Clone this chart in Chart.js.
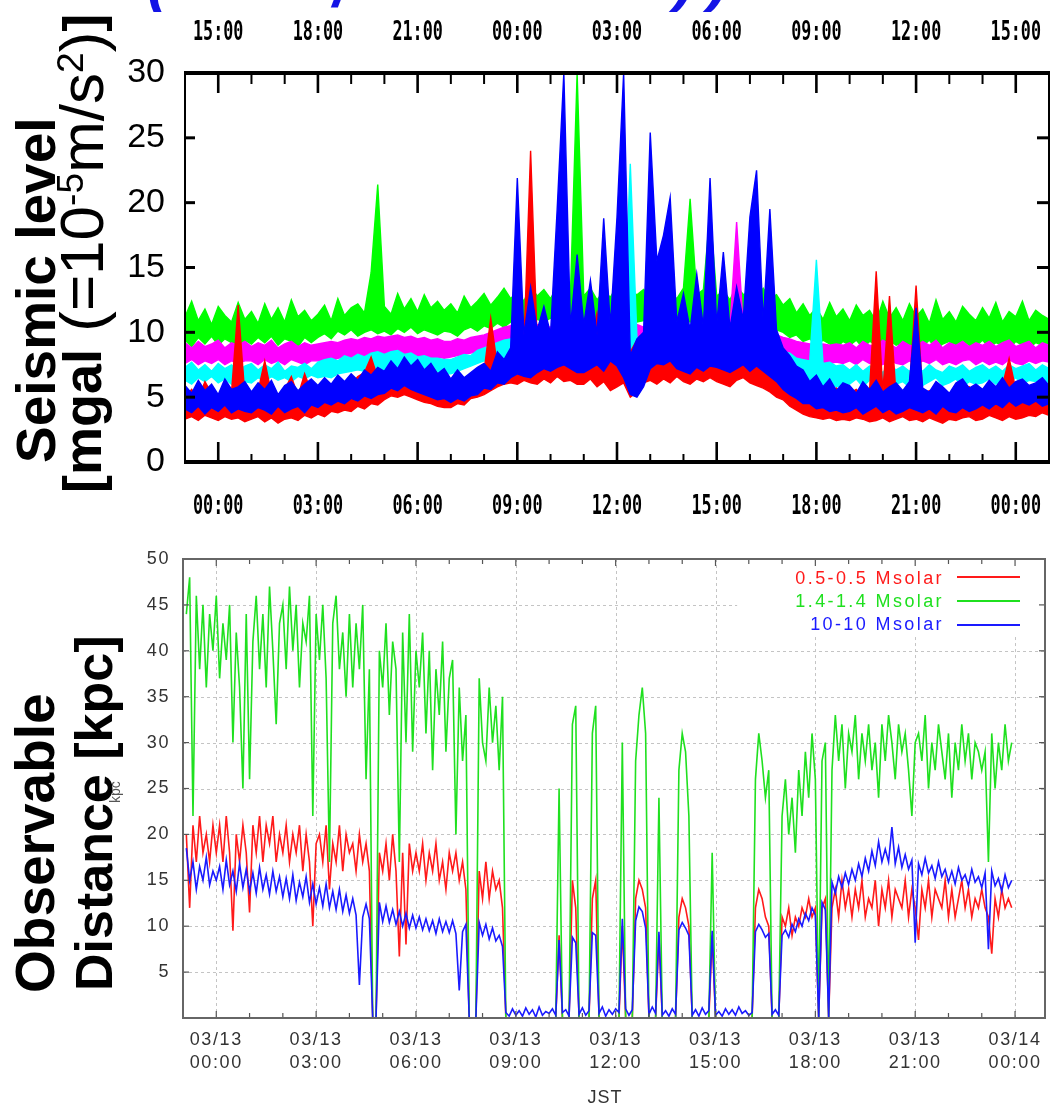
<!DOCTYPE html>
<html>
<head>
<meta charset="utf-8">
<title>Seismic level and observable distance, 03/13 JST</title>
<script src="https://cdn.jsdelivr.net/npm/chart.js@4"></script>
<style>
  body { margin: 0; background: #fff; }
  #page { position: relative; width: 1052px; height: 1113px; overflow: hidden; background: #fff; }
  #page canvas { position: absolute; left: 0; }
  .vt { position: absolute; writing-mode: vertical-rl; transform: rotate(180deg); white-space: nowrap;
        font-family: 'Liberation Sans', Arial, sans-serif; color: #000; }
  .vt sup { font-size: 0.6em; line-height: 0; vertical-align: 0.31em; }
  .cut { position: absolute; font: italic bold 60px 'Liberation Sans', Arial, sans-serif; color: #1414e6; line-height: 60px; }
  .key { position: absolute; right: 108px; font: 18px 'Liberation Sans', Arial, sans-serif; letter-spacing: 2.4px; line-height: 22px; text-align: right; }
  .swatch { position: absolute; left: 957px; width: 63px; height: 2px; }
</style>
</head>
<body>
<div id="page">
  <canvas id="seismic" width="1052" height="530" style="top:0"></canvas>
  <canvas id="distance" width="1052" height="583" style="top:530px"></canvas>

  <!-- bottom edge of the page heading -->
  <div class="cut" style="left:147px; top:-50px">(</div>
  <div class="cut" style="left:333px; top:-44px">/</div>
  <div class="cut" style="left:674px; top:-50px; letter-spacing:14px">))</div>

  <div class="vt" style="left:9px; top:63px; height:400px; font-size:55px; line-height:55px; font-weight:bold">Seismic level</div>
  <div class="vt" style="left:51px; top:0; height:493px; font-size:62px; line-height:62px"><b style="font-size:54px">[mgal</b> (=10<sup>-5</sup>m/s<sup>2</sup>)<b style="font-size:54px">]</b></div>

  <div class="vt" style="left:8px; top:593px; height:400px; font-size:55px; line-height:55px; font-weight:bold">Observable</div>
  <div class="vt" style="left:68px; top:591px; height:400px; font-size:52px; line-height:52px; font-weight:bold">Distance [kpc]</div>
  <div class="vt" style="left:108px; top:763px; height:40px; font-size:14px; line-height:14px; color:#555">kpc</div>

  <div class="key" style="top:567px; color:#ff1a1a">0.5-0.5 Msolar</div>
  <div class="key" style="top:590px; color:#1fe01f">1.4-1.4 Msolar</div>
  <div class="key" style="top:613px; color:#1a1aff">10-10 Msolar</div>
  <div class="swatch" style="top:576px; background:#ff1a1a"></div>
  <div class="swatch" style="top:600px; background:#1fe01f"></div>
  <div class="swatch" style="top:624px; background:#1a1aff"></div>

  <div style="position:absolute; left:575px; top:1087px; width:60px; text-align:center; font:18px 'Liberation Sans', Arial, sans-serif; color:#333; letter-spacing:1px">JST</div>
</div>

<script>
// Axis ticks shared by both panels (hours from 03/13 00:00 JST)
const tickHours = [0, 3, 6, 9, 12, 15, 18, 21, 24];
const jstLabels = ['00:00', '03:00', '06:00', '09:00', '12:00', '15:00', '18:00', '21:00', '00:00'];
const utcLabels = ['15:00', '18:00', '21:00', '00:00', '03:00', '06:00', '09:00', '12:00', '15:00'];
const dateLabels = [
  ['03/13', '00:00'], ['03/13', '03:00'], ['03/13', '06:00'], ['03/13', '09:00'], ['03/13', '12:00'],
  ['03/13', '15:00'], ['03/13', '18:00'], ['03/13', '21:00'], ['03/14', '00:00']
];

// Seismic level [mgal]: upper and lower edge of each trace, every 0.2 h from -1 h
const seisStart = -1;
const seisStep = 0.2;
const blueHigh = [
  5.9, 5.3, 6.3, 5.5, 6.0, 5.2, 6.4, 5.6, 5.8, 6.2,
  5.4, 6.1, 5.6, 6.3, 5.2, 5.9, 6.2, 5.5, 6.0, 6.4,
  5.9, 6.5, 6.0, 6.7, 6.2, 6.8, 6.3, 7.1, 6.7, 7.3,
  7.0, 7.8, 7.2, 8.1, 7.4, 7.9, 7.1, 7.6, 6.8, 7.2,
  6.4, 7.1, 6.5, 6.9, 7.3, 7.6, 7.0, 8.5, 7.9, 8.8,
  21.9, 9.8, 13.5, 10.2, 12.0, 9.9, 19.5, 30, 10.4, 16.0,
  10.6, 14.0, 9.8, 18.8, 10.5, 18.9, 30, 8.2, 9.5, 10.0,
  25.4, 15.5, 17.5, 20.4, 10.8, 13.0, 10.2, 14.5, 10.4, 21.9,
  10.6, 16.2, 10.3, 13.5, 11.0, 18.9, 22.5, 10.8, 19.5, 10.2,
  8.8, 8.2, 7.4, 7.1, 6.2, 6.7, 5.8, 6.4, 5.5, 6.1,
  5.9, 5.3, 6.2, 5.6, 6.3, 5.4, 5.8, 6.1, 5.5, 6.2,
  11.9, 5.7, 5.4, 6.2, 5.8, 5.3, 6.1, 6.4, 5.7, 6.0,
  5.6, 6.3, 5.8, 6.5, 5.7, 6.2, 6.4, 5.9, 6.1, 6.5,
  5.9
];
const blueLow = [
  4.1, 3.8, 4.3, 3.7, 4.2, 3.9, 4.4, 3.8, 4.1, 3.9,
  3.8, 4.2, 4.0, 3.7, 4.3, 3.8, 4.1, 4.3, 3.8, 4.4,
  4.2, 4.6, 4.4, 4.7, 4.5, 4.9, 4.7, 5.1, 4.9, 5.2,
  5.3, 5.7, 5.5, 5.9, 5.6, 5.4, 5.2, 5.0, 4.8, 4.9,
  4.6, 4.9, 4.7, 5.1, 5.2, 5.7, 5.6, 6.1, 6.0, 6.5,
  6.8, 6.6, 6.5, 6.9, 7.2, 7.0, 7.3, 7.5, 7.2, 6.9,
  6.9, 7.2, 7.5, 7.0, 7.8, 7.4, 6.5, 5.2, 5.0, 5.8,
  7.2, 7.6, 7.5, 7.8, 7.2, 7.0, 6.8, 7.3, 7.0, 7.4,
  7.3, 7.1, 6.9, 7.2, 7.5, 7.0, 7.4, 7.0, 6.6, 6.2,
  5.6, 5.2, 4.9, 4.5, 4.5, 4.1, 4.2, 3.9, 4.0, 3.8,
  3.9, 4.2, 3.7, 4.0, 4.3, 3.8, 4.1, 3.7, 3.9, 4.2,
  4.0, 3.8, 4.1, 3.7, 4.3, 3.9, 3.8, 4.2, 3.9, 4.1,
  4.4, 4.1, 4.5, 4.2, 4.7, 4.3, 4.6, 4.4, 4.7, 4.3,
  4.5
];
const redHigh = [
  5.0, 5.6, 4.9, 6.2, 5.3, 5.0, 6.2, 5.4, 12.1, 5.2,
  5.2, 5.5, 7.8, 5.3, 5.0, 5.6, 6.6, 5.1, 6.8, 5.4,
  5.3, 5.8, 5.6, 6.3, 5.9, 6.0, 6.6, 6.9, 8.1, 6.5,
  6.5, 7.0, 6.8, 7.2, 6.9, 6.6, 7.0, 7.5, 6.8, 6.2,
  5.8, 6.3, 6.0, 6.8, 6.5, 7.0, 11.1, 7.4, 7.8, 8.2,
  8.5, 9.0, 24.0, 9.2, 9.8, 8.7, 8.9, 9.6, 9.5, 9.1,
  9.2, 8.8, 11.5, 9.0, 9.3, 8.6, 9.1, 8.5, 9.4, 9.0,
  9.9, 9.2, 8.8, 9.5, 9.6, 9.0, 8.4, 9.3, 10.2, 9.1,
  9.3, 9.6, 10.4, 9.0, 8.9, 9.4, 9.8, 9.1, 8.6, 8.3,
  7.8, 7.0, 6.3, 6.1, 5.6, 5.8, 5.2, 5.5, 5.7, 5.3,
  5.3, 5.6, 5.1, 5.5, 14.7, 5.4, 12.8, 5.0, 5.4, 5.6,
  13.6, 5.2, 5.5, 5.0, 5.6, 5.3, 5.0, 5.7, 5.8, 5.2,
  5.5, 6.0, 5.4, 5.9, 8.0, 5.6, 6.2, 5.5, 5.6, 5.9,
  5.0
];
const redLow = [
  3.3, 3.5, 3.2, 3.6, 3.4, 3.2, 3.5, 3.3, 3.4, 3.1,
  3.3, 3.5, 3.1, 3.4, 3.0, 3.3, 3.4, 3.2, 3.6, 3.4,
  3.7, 3.5, 3.9, 3.8, 4.0, 3.9, 4.3, 4.1, 4.5, 4.4,
  4.8, 5.1, 5.0, 5.2, 5.0, 4.8, 4.6, 4.5, 4.3, 4.2,
  4.2, 4.5, 4.4, 4.9, 5.0, 5.2, 5.5, 5.8, 6.0, 6.1,
  6.0, 6.3, 6.1, 6.0, 6.4, 6.1, 6.6, 6.2, 6.3, 6.0,
  6.0, 6.4, 5.8, 6.2, 5.5, 5.8, 6.1, 5.0, 5.4, 6.1,
  6.3, 6.0, 6.4, 6.1, 6.6, 6.2, 6.0, 6.4, 6.2, 6.5,
  6.2, 6.0, 5.8, 6.3, 6.5, 6.1, 5.9, 5.7, 5.4, 5.0,
  4.8, 4.3, 4.0, 3.7, 3.5, 3.4, 3.3, 3.4, 3.2, 3.3,
  3.2, 3.4, 3.3, 3.1, 3.2, 3.4, 3.1, 3.3, 3.5, 3.2,
  3.3, 3.1, 3.4, 3.2, 3.0, 3.3, 3.2, 3.4, 3.5, 3.2,
  3.3, 3.6, 3.4, 3.2, 3.5, 3.3, 3.4, 3.6, 3.5, 3.8,
  3.6
];
const cyanHigh = [
  7.3, 7.7, 7.1, 7.5, 7.0, 7.6, 7.2, 7.5, 7.0, 7.4,
  7.6, 7.1, 7.5, 7.2, 7.7, 7.0, 7.4, 7.3, 7.6, 7.2,
  7.7, 7.9, 8.0, 7.8, 8.2, 8.0, 8.3, 8.1, 8.4, 8.5,
  8.3, 8.5, 8.6, 8.3, 8.4, 8.1, 8.2, 8.0, 8.0, 7.9,
  7.9, 8.1, 8.3, 8.2, 8.6, 8.8, 9.0, 9.2, 9.4, 9.5,
  9.6, 9.4, 9.7, 9.5, 9.8, 9.6, 9.4, 9.7, 9.5, 9.6,
  9.4, 9.6, 9.3, 9.5, 9.7, 9.6, 9.8, 23.0, 9.6, 9.4,
  9.5, 9.6, 9.4, 9.7, 9.5, 9.6, 9.3, 9.5, 9.7, 9.4,
  9.6, 9.4, 9.3, 9.5, 9.2, 9.4, 9.0, 9.2, 8.8, 8.7,
  8.5, 8.4, 8.0, 7.9, 7.8, 15.6, 7.6, 7.7, 7.4, 7.5,
  7.1, 7.5, 7.0, 7.4, 7.2, 6.9, 7.5, 7.1, 7.4, 7.0,
  7.4, 7.0, 7.5, 7.1, 6.9, 7.4, 7.2, 7.5, 7.0, 7.3,
  7.5, 7.1, 7.4, 7.0, 7.5, 7.2, 7.4, 7.6, 7.1, 7.5,
  7.2
];
const cyanLow = [
  6.3, 6.0, 6.5, 6.2, 6.6, 6.1, 6.4, 6.0, 6.5, 6.2,
  6.1, 6.5, 6.2, 6.6, 6.3, 6.5, 6.2, 6.6, 6.4, 6.7,
  6.5, 6.6, 6.5, 6.8, 6.9, 7.0, 7.1, 7.0, 7.2, 7.1,
  7.0, 7.1, 7.0, 6.8, 6.7, 6.8, 6.9, 6.8, 6.7, 6.8,
  6.8, 7.0, 7.2, 7.4, 7.6, 7.8, 7.7, 7.9, 7.6, 7.8,
  7.6, 7.8, 7.5, 7.7, 7.8, 7.6, 7.7, 7.5, 7.8, 7.6,
  7.6, 7.4, 7.5, 7.6, 7.4, 7.5, 7.6, 7.4, 7.6, 7.5,
  7.8, 7.6, 7.7, 7.5, 7.8, 7.6, 7.7, 7.5, 7.4, 7.6,
  7.6, 7.7, 7.5, 7.4, 7.3, 7.2, 7.0, 6.9, 6.8, 6.6,
  6.6, 6.4, 6.2, 6.1, 6.0, 6.0, 5.9, 5.8, 5.8, 5.9,
  6.0, 6.4, 5.8, 6.3, 6.1, 5.9, 6.4, 6.0, 6.2, 5.8,
  6.3, 5.9, 6.2, 6.5, 5.9, 6.1, 6.4, 5.8, 6.2, 6.0,
  6.1, 6.4, 6.0, 6.3, 6.1, 6.5, 6.0, 6.3, 6.2, 6.4,
  6.1
];
const magentaHigh = [
  9.2, 8.8, 9.3, 8.9, 9.1, 9.4, 8.8, 9.2, 9.0, 9.3,
  8.9, 9.2, 9.0, 9.4, 8.8, 9.1, 9.3, 8.9, 9.2, 9.0,
  9.1, 9.2, 9.3, 9.2, 9.4, 9.5, 9.4, 9.6, 9.5, 9.7,
  9.6, 9.7, 9.8, 9.6, 9.7, 9.5, 9.6, 9.4, 9.5, 9.3,
  9.3, 9.5, 9.4, 9.6, 9.7, 9.8, 10.0, 10.2, 10.4, 10.5,
  10.3, 10.5, 10.4, 10.6, 10.5, 10.4, 10.6, 10.5, 10.7, 10.5,
  10.4, 10.5, 10.3, 10.5, 10.4, 10.6, 10.4, 10.5, 10.6, 10.4,
  10.6, 10.4, 10.5, 10.6, 10.3, 10.5, 10.4, 10.6, 10.4, 10.5,
  10.5, 10.3, 10.4, 18.5, 10.4, 10.3, 10.2, 10.1, 9.9, 9.8,
  9.6, 9.5, 9.3, 9.2, 9.1, 9.0, 9.1, 9.0, 9.1, 9.0,
  9.2, 8.8, 9.3, 9.0, 8.9, 9.4, 9.1, 8.8, 9.3, 9.0,
  8.9, 9.3, 9.0, 9.4, 8.8, 9.2, 9.0, 9.3, 8.9, 9.2,
  9.0, 9.3, 8.9, 9.2, 9.4, 8.9, 9.1, 9.3, 8.8, 9.2,
  9.0
];
const magentaLow = [
  7.6, 7.9, 7.5, 7.8, 7.6, 7.9, 7.5, 7.8, 7.6, 7.8,
  7.8, 7.5, 7.9, 7.6, 7.8, 7.5, 7.9, 7.7, 7.5, 7.8,
  7.8, 7.9, 7.8, 8.0, 8.1, 8.0, 8.2, 8.1, 8.2, 8.3,
  8.2, 8.3, 8.2, 8.1, 8.2, 8.0, 8.1, 8.0, 8.1, 8.0,
  8.1, 8.2, 8.3, 8.4, 8.5, 8.6, 8.7, 8.8, 8.9, 8.8,
  8.8, 9.0, 8.9, 9.0, 8.9, 9.0, 8.8, 9.0, 8.9, 9.1,
  8.8, 9.0, 8.9, 9.1, 8.8, 9.0, 8.9, 9.1, 8.8, 9.0,
  9.0, 8.9, 9.1, 8.8, 9.0, 8.9, 9.1, 8.8, 9.0, 8.9,
  8.9, 9.0, 8.8, 9.0, 8.9, 8.8, 8.7, 8.6, 8.5, 8.3,
  8.1, 8.0, 7.8, 7.8, 7.7, 7.6, 7.7, 7.6, 7.7, 7.6,
  7.8, 7.5, 7.9, 7.6, 7.8, 7.5, 7.9, 7.6, 7.5, 7.8,
  7.5, 7.8, 7.6, 7.9, 7.5, 7.7, 7.5, 7.8, 7.9, 7.5,
  7.8, 7.5, 7.7, 7.5, 7.9, 7.6, 7.5, 7.8, 7.6, 7.8,
  7.7
];
const greenHigh = [
  11.2, 12.4, 10.9, 11.8, 10.6, 12.0, 11.3, 10.8, 12.3, 11.0,
  11.6, 10.7, 12.2, 11.0, 11.9, 10.8, 12.5, 11.2, 11.7, 10.9,
  11.4, 12.1, 10.9, 12.6, 11.3, 11.9, 12.2, 11.5, 14.6, 21.4,
  12.0, 11.4, 13.0, 11.8, 12.6, 11.6, 12.9, 11.9, 12.4, 11.7,
  12.2, 11.5, 12.8, 11.9, 12.4, 13.0, 12.1, 12.7, 13.4, 12.6,
  13.1, 12.4, 13.6, 12.8, 13.3, 12.6, 13.5, 12.7, 13.0, 30,
  12.8, 13.4, 12.5, 13.2, 12.7, 13.6, 12.6, 13.1, 12.9, 13.3,
  12.7, 13.5, 12.8, 13.0, 12.6, 13.4, 20.3, 12.9, 13.3, 19.3,
  12.8, 13.2, 12.5, 13.6, 12.9, 13.1, 12.7, 13.4, 12.6, 12.9,
  12.1, 12.6, 11.5, 12.2, 11.3, 11.9, 11.0, 12.3, 11.2, 11.8,
  10.9, 12.1, 11.3, 11.7, 10.8, 12.4, 11.1, 11.9, 10.9, 12.2,
  11.2, 11.8, 10.7, 12.5, 11.0, 11.6, 10.8, 12.0, 11.4, 10.9,
  11.9, 11.1, 12.3, 10.8, 11.6, 11.2, 12.4, 10.9, 11.7, 11.3,
  11.0
];
const greenLow = [
  9.4, 8.9, 9.6, 9.1, 9.7, 9.0, 9.5, 9.2, 8.9, 9.4,
  9.1, 9.6, 9.2, 9.7, 9.0, 9.5, 9.3, 8.9, 9.6, 9.2,
  9.6, 9.9, 9.5, 10.1, 9.8, 10.2, 9.7, 10.0, 10.2, 9.9,
  10.1, 9.8, 10.3, 10.0, 10.4, 9.9, 10.2, 10.0, 9.8, 10.1,
  10.0, 9.7, 10.2, 10.4, 10.1, 10.5, 10.3, 10.7, 10.4, 10.8,
  10.6, 10.9, 10.7, 11.0, 10.8, 11.1, 10.7, 11.0, 10.9, 11.1,
  10.8, 10.9, 10.7, 11.0, 10.8, 10.9, 10.7, 11.0, 10.8, 10.9,
  10.9, 10.7, 11.0, 10.8, 10.9, 11.0, 10.8, 10.9, 10.7, 10.9,
  10.8, 10.6, 10.7, 10.9, 10.6, 10.8, 10.7, 10.5, 10.4, 10.2,
  10.0, 9.6, 9.8, 9.3, 9.5, 9.0, 9.4, 9.1, 8.8, 9.3,
  9.0, 9.4, 8.8, 9.3, 9.1, 8.7, 9.4, 9.0, 9.2, 8.8,
  9.3, 8.9, 9.4, 8.7, 9.1, 9.3, 8.8, 9.4, 9.0, 8.9,
  9.4, 8.8, 9.2, 9.0, 8.7, 9.3, 9.0, 8.8, 9.2, 9.0,
  9.1
];

// Observable distance [kpc], sampled every 0.1 h starting at -0.9 h
const distStart = -0.9;
const distStep = 0.1;
const distRed = [
  20, 12, 21, 17, 22, 18, 20, 17, 21, 18,
  21, 17, 22, 18, 9.5, 20, 17, 21, 18, 11.5,
  21, 18, 22, 17, 21, 19, 22, 17, 20, 18,
  21, 17, 20, 18, 21, 16, 20, 17, 10, 19,
  20, 17, 21, 14, 19, 17, 21, 16, 20, 18,
  19, 16, 20, 17, 19, 16, 0, 0, 18, 16,
  19, 15, 20, 16, 6.7, 18, 8, 19, 16, 18,
  16, 19, 15, 18, 16, 19, 15, 17, 14, 18,
  16, 18, 15, 17, 14, 0, 0, 0, 16, 13,
  17, 13, 16, 14, 15, 12, 0, 0, 0, 0,
  0, 0, 0, 0, 0, 0, 0, 0, 0, 0,
  0, 0, 9, 0, 0, 0, 15, 12, 0, 0,
  0, 0, 13, 15, 0, 0, 0, 0, 0, 0,
  0, 10, 0, 0, 0, 13, 15, 14, 12, 0,
  0, 0, 9, 0, 0, 0, 0, 0, 11, 13,
  12, 10, 0, 0, 0, 0, 0, 0, 9, 0,
  0, 0, 0, 0, 0, 0, 0, 0, 0, 0,
  0, 12, 14, 13, 11, 10, 0, 0, 0, 11,
  10, 12, 9, 11, 10, 12, 11, 13, 11, 12,
  0, 12, 13, 0, 12, 14, 11, 15, 12, 14,
  11, 14, 12, 15, 11, 13, 12, 15, 10, 14,
  12, 15, 11, 14, 13, 12, 15, 11, 14, 12,
  8.5, 14, 12, 15, 11, 14, 13, 12, 15, 11,
  14, 11, 13, 15, 12, 14, 11, 13, 12, 14,
  12, 11, 7, 13, 11, 14, 12, 13, 12, null
];
const distGreen = [
  44, 48, 22, 46, 38, 45, 36, 44, 40, 46,
  37, 43, 39, 45, 30, 42, 36, 25, 44, 26,
  41, 46, 38, 44, 36, 47, 40, 32, 43, 45,
  38, 47, 40, 45, 36, 43, 41, 46, 22, 44,
  39, 45, 37, 17, 43, 46, 38, 42, 35, 44,
  36, 43, 38, 45, 26, 38, 0, 0, 40, 36,
  43, 33, 41, 38, 17, 42, 30, 44, 29, 40,
  36, 42, 31, 40, 27, 38, 33, 41, 29, 37,
  39, 20, 36, 28, 33, 0, 0, 0, 37, 30,
  28, 36, 30, 34, 27, 35, 0, 0, 0, 0,
  0, 0, 0, 0, 0, 0, 0, 0, 0, 0,
  0, 0, 25, 0, 0, 0, 32, 34, 0, 0,
  0, 0, 31, 34, 0, 0, 0, 0, 0, 0,
  0, 30, 0, 0, 0, 28, 33, 36, 31, 0,
  0, 0, 24, 0, 0, 0, 0, 0, 27, 31,
  29, 22, 0, 0, 0, 0, 0, 0, 18, 0,
  0, 0, 0, 0, 0, 0, 0, 0, 0, 0,
  0, 26, 31, 28, 24, 27, 0, 0, 0, 22,
  26, 20, 24, 18, 27, 22, 29, 24, 31, 26,
  0, 28, 30, 0, 27, 33, 28, 32, 25, 31,
  29, 33, 26, 31, 28, 32, 27, 30, 24, 32,
  28, 33, 30, 26, 32, 29, 31, 27, 22, 30,
  31, 28, 33, 25, 30, 27, 32, 29, 26, 31,
  24, 30, 27, 32, 28, 31, 26, 30, 29, 27,
  29, 17, 31, 25, 30, 27, 32, 28, 30, null
];
const distBlue = [
  18.5, 15, 17, 14, 16.5, 15, 17.5, 14.5, 16, 15,
  16.5, 14, 17.2, 14.5, 16, 13.8, 16.8, 14.2, 16.2, 13.8,
  15.8, 13.6, 16.4, 14, 15.6, 13.5, 16, 13.8, 15.4, 13.2,
  15.2, 13, 15.6, 12.8, 14.8, 13.2, 15.4, 12.6, 14.6, 12.4,
  14.2, 12.2, 14.6, 12, 13.8, 11.8, 14, 11.6, 13.4, 11.4,
  13, 11.2, 3.6, 11, 12.4, 10.8, 0, 0, 12.6, 10.5,
  12.2, 10.4, 11.8, 10.2, 11.6, 10, 11.4, 9.8, 11.2, 9.8,
  11, 9.6, 10.8, 9.5, 10.6, 9.2, 10.8, 9.4, 10.5, 9.3,
  10.6, 9.2, 3, 9.4, 10.2, 0, 0, 0, 10.4, 9,
  10.2, 8.6, 9.8, 8.4, 9, 7.8, 0.6, 0.2, 1.0, 0.3,
  0.8, 0.2, 1.1, 0.4, 0.9, 0.1, 1.2, 0.3, 0.7, 0.5,
  1.0, 0.3, 8.5, 0.6, 0.9, 0.2, 8.8, 8.2, 0.4, 1.1,
  0.3, 0.8, 9.3, 9.0, 0.5, 1.2, 0.2, 0.9, 0.4, 1.0,
  0.6, 10.8, 1.0, 0.3, 0.9, 10.6, 12.1, 11.6, 9.8, 0.4,
  1.2, 0.5, 9.4, 0.3, 0.8, 0.2, 1.0, 0.4, 9.6, 10.4,
  9.8, 9.0, 0.3, 0.9, 0.2, 1.1, 0.4, 0.8, 9.5, 0.3,
  0.7, 0.2, 1.0, 0.4, 0.9, 0.3, 1.2, 0.5, 0.8, 0.3,
  0.6, 9.4, 10.2, 9.6, 8.8, 9.2, 0.4, 0.9, 0.3, 9.0,
  9.6, 8.8, 10.2, 9.4, 10.8, 10, 11.4, 10.6, 12.0, 11.2,
  0, 12.6, 11.8, 0, 14.8, 13.6, 15.4, 14.2, 15.8, 14.6,
  16.2, 15, 16.8, 15.4, 17.4, 16, 18.2, 16.6, 19.2, 17,
  18.4, 17, 20.8, 16.8, 18.6, 16.4, 17.8, 16.2, 17.2, 8.2,
  16.8, 15.6, 17.4, 15.8, 16.6, 15.2, 17.0, 15.4, 16.2, 14.8,
  16.0, 14.6, 16.4, 15.0, 15.6, 14.4, 16.2, 14.8, 15.4, 14.2,
  15.8, 7.5, 16.0, 14.4, 15.2, 13.8, 15.6, 14.2, 15.0, null
];

function toPoints(values, start, step) {
  return values.map((v, i) => ({ x: start + i * step, y: v }));
}

function strokeLine(ctx, x1, y1, x2, y2) {
  ctx.beginPath();
  ctx.moveTo(x1, y1);
  ctx.lineTo(x2, y2);
  ctx.stroke();
}

function trace(values, start, step, color, width) {
  return {
    data: toPoints(values, start, step),
    borderColor: color,
    borderWidth: width,
    pointRadius: 0,
    fill: false,
    tension: 0
  };
}

// a seismic trace is drawn as the filled band between its upper and lower edge
function band(high, low, color) {
  const top = trace(high, seisStart, seisStep, color, 1.4);
  top.fill = '+1';
  top.backgroundColor = color;
  return [top, trace(low, seisStart, seisStep, color, 1.4)];
}

const fixedTicks = scale => { scale.ticks = tickHours.map(v => ({ value: v })); };
const labelFor = list => value => list[tickHours.indexOf(value)] ?? '';

// Upper panel frame: heavy box with inward ticks and narrow clock labels
const seisFrame = {
  id: 'seisFrame',
  afterDatasetsDraw(chart) {
    const { ctx, chartArea: a, scales: { x, y } } = chart;
    ctx.save();
    ctx.strokeStyle = '#000';
    for (let h = 0; h <= 24; h++) {
      const px = x.getPixelForValue(h);
      const major = h % 3 === 0;
      ctx.lineWidth = major ? 2.6 : 2;
      strokeLine(ctx, px, a.top, px, a.top + (major ? 20 : 11));
      strokeLine(ctx, px, a.bottom, px, a.bottom - (major ? 20 : 8));
    }
    ctx.lineWidth = 3;
    for (let v = 5; v < 30; v += 5) {
      const py = y.getPixelForValue(v);
      strokeLine(ctx, a.left, py, a.left + 10, py);
      strokeLine(ctx, a.right, py, a.right - 12, py);
    }
    ctx.lineWidth = 4;
    strokeLine(ctx, a.left - 1, a.top, a.right + 1, a.top);
    strokeLine(ctx, a.left - 1, a.bottom, a.right + 1, a.bottom);
    ctx.lineWidth = 2;
    strokeLine(ctx, a.left, a.top, a.left, a.bottom);
    strokeLine(ctx, a.right, a.top, a.right, a.bottom);

    ctx.font = "bold 27px 'DejaVu Sans Mono', monospace";
    ctx.fillStyle = '#000';
    ctx.textAlign = 'center';
    ctx.textBaseline = 'middle';
    tickHours.forEach((h, i) => {
      const px = x.getPixelForValue(h);
      [[utcLabels[i], a.top - 40], [jstLabels[i], a.bottom + 45]].forEach(([text, py]) => {
        ctx.save();
        ctx.translate(px, py);
        ctx.scale(0.62, 1);
        ctx.fillText(text, 0, 0);
        ctx.restore();
      });
    });
    ctx.restore();
  }
};

// Lower panel: dashed grid kept clear behind the key, then a thin frame
const distFrame = {
  id: 'distFrame',
  beforeDraw(chart) {
    chart.ctx.letterSpacing = '1.6px';
  },
  beforeDatasetsDraw(chart) {
    const { ctx, chartArea: a, scales: { x, y } } = chart;
    const keyLeft = x.getPixelForValue(15.65);
    const keyBottom = y.getPixelForValue(41.5);
    ctx.save();
    ctx.strokeStyle = '#c4c4c4';
    ctx.lineWidth = 1;
    ctx.setLineDash([3, 3]);
    tickHours.forEach(h => {
      const px = Math.round(x.getPixelForValue(h)) + 0.5;
      strokeLine(ctx, px, px > keyLeft ? keyBottom : a.top, px, a.bottom);
    });
    for (let v = 5; v < 50; v += 5) {
      const py = Math.round(y.getPixelForValue(v)) + 0.5;
      strokeLine(ctx, a.left, py, py < keyBottom ? keyLeft : a.right, py);
    }
    ctx.restore();
  },
  afterDatasetsDraw(chart) {
    const { ctx, chartArea: a, scales: { x, y } } = chart;
    ctx.save();
    ctx.strokeStyle = '#555';
    ctx.lineWidth = 1.2;
    for (let h = 0; h <= 24; h++) {
      const px = x.getPixelForValue(h);
      const len = h % 3 === 0 ? 7 : 5;
      strokeLine(ctx, px, a.top, px, a.top + len);
      strokeLine(ctx, px, a.bottom, px, a.bottom - len);
    }
    for (let v = 5; v < 50; v += 5) {
      const py = y.getPixelForValue(v);
      strokeLine(ctx, a.left, py, a.left + 6, py);
      strokeLine(ctx, a.right, py, a.right - 6, py);
    }
    ctx.strokeStyle = '#666';
    ctx.lineWidth = 2;
    ctx.strokeRect(a.left, a.top, a.right - a.left, a.bottom - a.top);
    ctx.restore();
  }
};

new Chart(document.getElementById('seismic'), {
  type: 'line',
  data: {
    datasets: [
      ...band(blueHigh, blueLow, '#0000ff'),
      ...band(redHigh, redLow, '#ff0000'),
      ...band(cyanHigh, cyanLow, '#00ffff'),
      ...band(magentaHigh, magentaLow, '#ff00ff'),
      ...band(greenHigh, greenLow, '#00ff00')
    ]
  },
  options: {
    responsive: false,
    animation: false,
    layout: { padding: { top: 0, right: 3, bottom: 0, left: 0 } },
    plugins: { legend: { display: false }, tooltip: { enabled: false } },
    scales: {
      x: {
        type: 'linear', position: 'bottom', min: -1, max: 25,
        afterBuildTicks: fixedTicks,
        afterFit: s => { s.height = 68; },
        grid: { display: false, drawTicks: false },
        border: { display: false },
        ticks: { display: false }
      },
      xTop: {
        type: 'linear', position: 'top', min: -1, max: 25,
        afterBuildTicks: fixedTicks,
        afterFit: s => { s.height = 73; },
        grid: { display: false, drawTicks: false },
        border: { display: false },
        ticks: { display: false }
      },
      y: {
        min: 0, max: 30,
        afterFit: s => { s.width = 185; },
        grid: { display: false, drawTicks: false },
        border: { display: false },
        ticks: { stepSize: 5, font: { family: "'Liberation Sans', Arial, sans-serif", size: 34 }, color: '#000', padding: 20 }
      }
    }
  },
  plugins: [seisFrame]
});

new Chart(document.getElementById('distance'), {
  type: 'line',
  data: {
    datasets: [
      trace(distBlue, distStart, distStep, '#1a1aff', 1.6),
      trace(distGreen, distStart, distStep, '#1fe01f', 1.6),
      trace(distRed, distStart, distStep, '#ff1a1a', 1.6)
    ]
  },
  options: {
    responsive: false,
    animation: false,
    layout: { padding: { top: 29, right: 7, bottom: 0, left: 0 } },
    plugins: { legend: { display: false }, tooltip: { enabled: false } },
    scales: {
      x: {
        type: 'linear', min: -1, max: 24.9,
        afterBuildTicks: fixedTicks,
        afterFit: s => { s.height = 95; },
        grid: { display: false, drawTicks: false },
        border: { display: false },
        ticks: {
          callback: labelFor(dateLabels),
          font: { family: "'Liberation Sans', Arial, sans-serif", size: 18, lineHeight: 1.3 },
          color: '#333', padding: 10, maxRotation: 0
        }
      },
      y: {
        min: 0, max: 50,
        afterBuildTicks: s => { s.ticks = [5, 10, 15, 20, 25, 30, 35, 40, 45, 50].map(v => ({ value: v })); },
        afterFit: s => { s.width = 183; },
        grid: { display: false, drawTicks: false },
        border: { display: false },
        ticks: { font: { family: "'Liberation Sans', Arial, sans-serif", size: 18 }, color: '#333', padding: 13 }
      }
    }
  },
  plugins: [distFrame]
});
</script>
</body>
</html>
